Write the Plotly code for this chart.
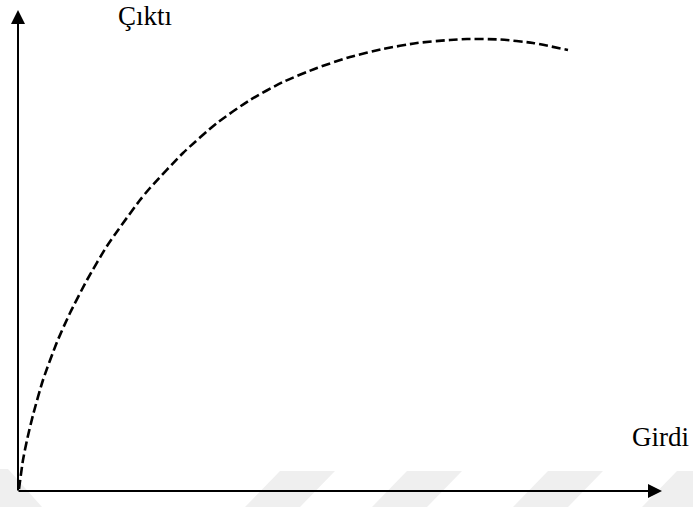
import plotly.graph_objects as go

# Data (arbitrary units: Girdi = input, Çıktı = output)
girdi = [1, 5, 9, 15, 25, 39, 52, 69, 89, 122, 132, 165, 199, 232, 265, 299,
         332, 365, 399, 432, 449, 482, 515, 550]
cikti = [2, 31, 51, 76, 111, 149, 178, 211, 245, 291, 303, 338, 368, 391, 409, 423,
         434, 442, 448, 451, 452, 451.5, 448, 441]

x_label = "Girdi"
y_label = "Çıktı"

X_MIN, X_MAX = -18, 675
Y_MIN, Y_MAX = -16, 491
X_AXIS_END = 644
Y_AXIS_END = 481

fig = go.Figure()

fig.add_trace(go.Scatter(
    x=girdi, y=cikti, mode="lines",
    line=dict(color="black", width=2.6, dash="9px,4px", shape="spline", smoothing=0.6),
    hoverinfo="skip", showlegend=False,
))

# faint watermark stripes at the bottom
stripe_tops = [280, 407, 548, 677]
stripe_w = 55
stripe_shift = 35
shapes = []
ytop, ybot = 20, Y_MIN
for t in stripe_tops:
    a = t - 18
    shapes.append(dict(
        type="path", xref="x", yref="y", layer="below",
        path=f"M{a},{ytop} L{a+stripe_w},{ytop} L{a+stripe_w-stripe_shift},{ybot} L{a-stripe_shift},{ybot} Z",
        fillcolor="#efefef", line=dict(width=0),
    ))
shapes.append(dict(
    type="path", xref="x", yref="y", layer="below",
    path=f"M{X_MIN},22 L{X_MIN+8},22 L{X_MIN+42},{ybot} L{X_MIN},{ybot} Z",
    fillcolor="#efefef", line=dict(width=0),
))

annotations = [
    # vertical axis arrow
    dict(x=0, y=Y_AXIS_END, ax=0, ay=-1, xref="x", yref="y", axref="x", ayref="y",
         text="", showarrow=True, arrowhead=2, arrowsize=1.4, arrowwidth=2,
         arrowcolor="black", standoff=0),
    # horizontal axis arrow
    dict(x=X_AXIS_END, y=0, ax=-1, ay=0, xref="x", yref="y", axref="x", ayref="y",
         text="", showarrow=True, arrowhead=2, arrowsize=1.4, arrowwidth=2,
         arrowcolor="black", standoff=0),
    dict(x=127, y=475, xref="x", yref="y", text=y_label, showarrow=False,
         font=dict(family="Liberation Serif", size=27, color="black"),
         xanchor="center", yanchor="middle"),
    dict(x=642, y=54, xref="x", yref="y", text=x_label, showarrow=False,
         font=dict(family="Liberation Serif", size=27, color="black"),
         xanchor="center", yanchor="middle"),
]

fig.update_layout(
    width=693, height=507,
    margin=dict(l=0, r=0, t=0, b=0),
    paper_bgcolor="white", plot_bgcolor="white",
    xaxis=dict(range=[X_MIN, X_MAX], visible=False, fixedrange=True),
    yaxis=dict(range=[Y_MIN, Y_MAX], visible=False, fixedrange=True),
    shapes=shapes, annotations=annotations, showlegend=False,
)

fig.write_html("out.html",
               config={"displayModeBar": False},
               post_script="document.body.style.margin='0';document.body.style.padding='0';")
